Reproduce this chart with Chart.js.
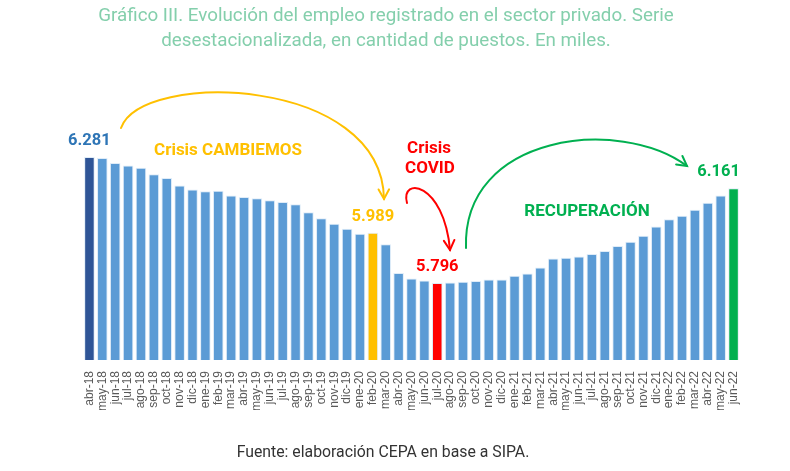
<!DOCTYPE html>
<html>
<head>
<meta charset="utf-8">
<script src="https://cdn.jsdelivr.net/npm/chart.js@4.4.1/dist/chart.umd.min.js"></script>
<style>
  body { margin: 0; background: #fff; }
  #wrap { position: relative; width: 790px; height: 471px; }
  #chart { position: absolute; left: 0; top: 0; }
  .title {
    position: absolute; left: 0; top: 3px; width: 772px; text-align: center;
    font-family: Roboto, sans-serif; font-size: 18.8px; line-height: 25px; color: #84cfac;
  }
  .source {
    position: absolute; left: 0; top: 442px; width: 766px; text-align: center;
    font-family: Roboto, sans-serif; font-size: 15.8px; color: #333;
  }
</style>
</head>
<body>
<div id="wrap">
  <canvas id="chart" width="790" height="471"></canvas>
  <div class="title">Gráfico III. Evolución del empleo registrado en el sector privado. Serie<br>desestacionalizada, en cantidad de puestos. En miles.</div>
  <div class="source">Fuente: elaboración CEPA en base a SIPA.</div>
</div>
<script>
// months, abr-18 .. jun-22
const months = [
  "abr-18", "may-18", "jun-18", "jul-18", "ago-18", "sep-18", "oct-18", "nov-18", "dic-18",
  "ene-19", "feb-19", "mar-19", "abr-19", "may-19", "jun-19", "jul-19", "ago-19", "sep-19", "oct-19", "nov-19", "dic-19",
  "ene-20", "feb-20", "mar-20", "abr-20", "may-20", "jun-20", "jul-20", "ago-20", "sep-20", "oct-20", "nov-20", "dic-20",
  "ene-21", "feb-21", "mar-21", "abr-21", "may-21", "jun-21", "jul-21", "ago-21", "sep-21", "oct-21", "nov-21", "dic-21",
  "ene-22", "feb-22", "mar-22", "abr-22", "may-22", "jun-22",
];

// registered private employment, thousands of jobs
const puestos = [
  6281, 6277, 6258, 6248, 6239, 6214, 6200, 6171, 6156,
  6149, 6151, 6133, 6127, 6122, 6114, 6108, 6099, 6068, 6045, 6024, 6005,
  5986, 5989, 5945, 5835, 5813, 5806, 5796, 5798, 5801, 5804, 5810, 5810,
  5824, 5833, 5856, 5890, 5893, 5898, 5908, 5919, 5938, 5955, 5978, 6013,
  6041, 6055, 6078, 6105, 6133, 6161,
];

// highlighted months and the label shown above them
const destacados = ["abr-18", "feb-20", "jul-20", "jun-22"];
const destacadoColor = ["#2f5597", "#ffc000", "#ff0000", "#00b050"];
const labelColor = ["#2e75b6", "#ffc000", "#ff0000", "#00b050"];
const labelShift = [0, 0, 0, -15];

const fmt = (v) => v.toLocaleString("es-AR");

const barColors = months.map((m) => {
  const i = destacados.indexOf(m);
  return i >= 0 ? destacadoColor[i] : "#5b9bd5";
});

const annotations = {
  id: "annotations",
  afterDatasetsDraw(chart) {
    const ctx = chart.ctx;
    const meta = chart.getDatasetMeta(0);
    ctx.save();
    ctx.textAlign = "center";
    ctx.textBaseline = "middle";

    // value labels above the highlighted bars
    ctx.font = "bold 16.5px Roboto";
    destacados.forEach((m, k) => {
      const i = months.indexOf(m);
      const bar = meta.data[i];
      ctx.fillStyle = labelColor[k];
      ctx.fillText(fmt(puestos[i]), bar.x + labelShift[k], bar.y - 16);
    });

    // period labels
    ctx.font = "bold 17px Roboto";
    ctx.fillStyle = "#ffc000";
    ctx.fillText("Crisis CAMBIEMOS", 228, 151);
    ctx.fillStyle = "#ff0000";
    ctx.fillText("Crisis", 429, 149);
    ctx.fillText("COVID", 430, 169);
    ctx.fillStyle = "#00b050";
    ctx.fillText("RECUPERACIÓN", 587, 212);

    // curved arrows
    const arrow = (color, p0, p1, p2, p3) => {
      ctx.strokeStyle = color;
      ctx.lineWidth = 2;
      ctx.lineCap = "round";
      ctx.beginPath();
      ctx.moveTo(p0[0], p0[1]);
      ctx.bezierCurveTo(p1[0], p1[1], p2[0], p2[1], p3[0], p3[1]);
      ctx.stroke();
      const ang = Math.atan2(p3[1] - p2[1], p3[0] - p2[0]);
      const len = 11;
      ctx.beginPath();
      ctx.moveTo(p3[0] - len * Math.cos(ang - 0.5), p3[1] - len * Math.sin(ang - 0.5));
      ctx.lineTo(p3[0], p3[1]);
      ctx.lineTo(p3[0] - len * Math.cos(ang + 0.5), p3[1] - len * Math.sin(ang + 0.5));
      ctx.stroke();
    };
    arrow("#ffc000", [121, 128], [142, 70], [382, 76], [384, 199]);
    arrow("#ff0000", [407, 203], [400, 176], [444, 182], [450, 250]);
    arrow("#00b050", [466, 248], [462, 134], [620, 116], [687, 166]);
    ctx.restore();
  },
};

new Chart(document.getElementById("chart"), {
  type: "bar",
  data: {
    labels: months,
    datasets: [
      {
        data: puestos,
        backgroundColor: barColors,
        borderColor: "rgba(220,234,247,0.9)",
        borderWidth: 1,
        categoryPercentage: 1,
        barPercentage: 0.82,
      },
    ],
  },
  options: {
    responsive: false,
    animation: false,
    layout: { padding: { left: 83, right: 50, top: 126, bottom: 61 } },
    plugins: { legend: { display: false }, tooltip: { enabled: false } },
    scales: {
      x: {
        grid: { display: false },
        border: { display: false },
        ticks: {
          autoSkip: false,
          minRotation: 90,
          maxRotation: 90,
          padding: 3,
          color: "#595959",
          font: { family: "Liberation Sans", size: 12 },
        },
        afterFit: (s) => { s.height = 50; },
      },
      y: { display: false, min: 5500, max: 6400 },
    },
  },
  plugins: [annotations],
});
</script>
</body>
</html>
